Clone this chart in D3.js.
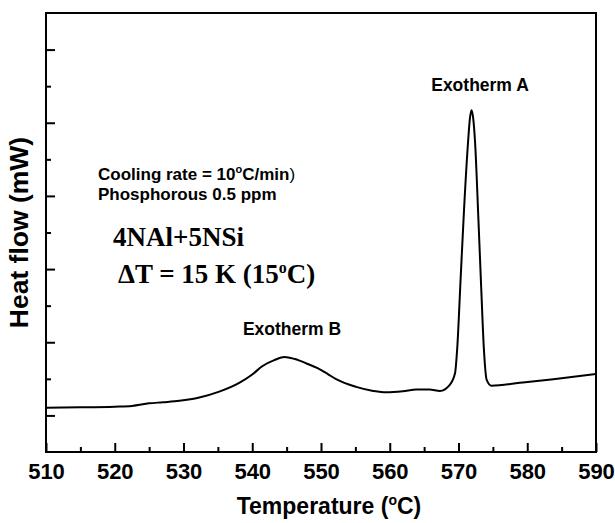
<!DOCTYPE html>
<html>
<head>
<meta charset="utf-8">
<script src="https://cdn.jsdelivr.net/npm/d3@7"></script>
<style>
    body { margin: 0; background: #fff; }
    svg  { display: block; }
</style>
</head>
<body>
<svg id="chart" width="615" height="523"></svg>
<script>
// ===== DATA =====
const temps = [510, 515, 520, 522.5, 525, 527, 529.4, 532.3, 535.2, 538.1, 540, 541.5, 543.2, 544.7,
    546.2, 547.9, 549.5, 551, 552.2, 555.1, 557.6, 559.5, 561.9, 563.9, 565.8, 567.3, 568.7, 569.5,
    569.8, 570.3, 570.8, 571.4, 571.65, 571.9, 572.15, 572.4, 572.9, 573.3, 573.7, 574.1, 574.8,
    578.9, 583.8, 590];
const heatFlow = [1.21, 1.22, 1.24, 1.26, 1.33, 1.36, 1.40, 1.49, 1.65, 1.89, 2.12, 2.35, 2.51, 2.60,
    2.54, 2.42, 2.29, 2.13, 1.99, 1.78, 1.67, 1.63, 1.66, 1.71, 1.71, 1.67, 1.83, 2.16,
    2.79, 4.7, 6.61, 8.5, 9.1, 9.34, 9.1, 8.5, 6.34, 4.5, 2.79, 1.97, 1.81,
    1.89, 1.99, 2.13];

const xMajor = [510, 520, 530, 540, 550, 560, 570, 580, 590];
const xMinor = [515, 525, 535, 545, 555, 565, 575, 585];
const yMajor = [1, 3, 5, 7, 9, 11];
const yMinor = [2, 4, 6, 8, 10];

// ===== LAYOUT =====
const W = 615, H = 523;
const margin = { top: 13, right: 19, bottom: 71, left: 46 };
const iw = W - margin.left - margin.right;
const ih = H - margin.top - margin.bottom;

const svg = d3.select('#chart');
const g = svg.append('g').attr('transform', `translate(${margin.left},${margin.top})`);

const x = d3.scaleLinear().domain([510, 590]).range([0, iw]);
const y = d3.scaleLinear().domain([0, 12]).range([ih, 0]);

const sans = '"Liberation Sans", Arial, sans-serif';
const serif = '"Liberation Serif", "Times New Roman", serif';

// Curve
const line = d3.line()
    .x(d => x(d[0]))
    .y(d => y(d[1]))
    .curve(d3.curveMonotoneX);

g.append('path')
    .datum(d3.zip(temps, heatFlow))
    .attr('d', line)
    .attr('fill', 'none')
    .attr('stroke', '#000')
    .attr('stroke-width', 2)
    .attr('stroke-linejoin', 'round');

// X axis: major ticks with labels, minor ticks without (both inward)
const xAxis = g.append('g')
    .attr('transform', `translate(0,${ih})`)
    .call(d3.axisBottom(x).tickValues(xMajor).tickSize(-9).tickPadding(11).tickFormat(d3.format('d')));
xAxis.selectAll('text')
    .attr('fill', '#000')
    .style('font-family', sans)
    .style('font-size', '22px')
    .style('font-weight', 'bold');

g.append('g')
    .attr('transform', `translate(0,${ih})`)
    .call(d3.axisBottom(x).tickValues(xMinor).tickSize(-5).tickFormat(''));

// Y axis: ticks only, inward
g.append('g')
    .call(d3.axisRight(y).tickValues(yMajor).tickSize(9).tickFormat(''));
g.append('g')
    .call(d3.axisRight(y).tickValues(yMinor).tickSize(5).tickFormat(''));

g.selectAll('.domain').remove();
g.selectAll('.tick line').attr('stroke', '#000').attr('stroke-width', 2);

// Frame
g.append('rect')
    .attr('width', iw)
    .attr('height', ih)
    .attr('fill', 'none')
    .attr('stroke', '#000')
    .attr('stroke-width', 2);

// Axis titles
const xt = svg.append('text')
    .attr('x', margin.left + iw / 2 + 8)
    .attr('y', 514)
    .attr('text-anchor', 'middle')
    .style('font-family', sans)
    .style('font-size', '23px')
    .style('font-weight', 'bold');
xt.append('tspan').text('Temperature (');
xt.append('tspan').attr('dy', -9).style('font-size', '14px').text('o');
xt.append('tspan').attr('dy', 9).text('C)');

svg.append('text')
    .attr('transform', `translate(28,${margin.top + ih / 2}) rotate(-90)`)
    .attr('text-anchor', 'middle')
    .style('font-family', sans)
    .style('font-size', '26.5px')
    .style('font-weight', 'bold')
    .text('Heat flow (mW)');

// Annotations
const note = svg.append('g')
    .style('font-family', sans)
    .style('font-size', '17px')
    .style('font-weight', 'bold');
const n1 = note.append('text').attr('x', 98).attr('y', 180);
n1.append('tspan').text('Cooling rate = 10');
n1.append('tspan').attr('dy', -7).style('font-size', '11px').text('o');
n1.append('tspan').attr('dy', 7).text('C/min');
n1.append('tspan').style('font-weight', 'normal').text(')');
note.append('text').attr('x', 98).attr('y', 200).text('Phosphorous 0.5 ppm');

const big = svg.append('g')
    .style('font-family', serif)
    .style('font-size', '27px')
    .style('font-weight', 'bold');
big.append('text').attr('x', 113).attr('y', 246).text('4NAl+5NSi');
const dt = big.append('text').attr('x', 118).attr('y', 283);
dt.append('tspan').text('ΔT = 15 K (15');
dt.append('tspan').attr('dy', -10).style('font-size', '16px').text('o');
dt.append('tspan').attr('dy', 10).text('C)');

svg.append('text')
    .attr('x', 292).attr('y', 335)
    .attr('text-anchor', 'middle')
    .style('font-family', sans)
    .style('font-size', '17.5px')
    .style('font-weight', 'bold')
    .text('Exotherm B');

svg.append('text')
    .attr('x', 480).attr('y', 91)
    .attr('text-anchor', 'middle')
    .style('font-family', sans)
    .style('font-size', '17.5px')
    .style('font-weight', 'bold')
    .text('Exotherm A');
</script>
</body>
</html>
